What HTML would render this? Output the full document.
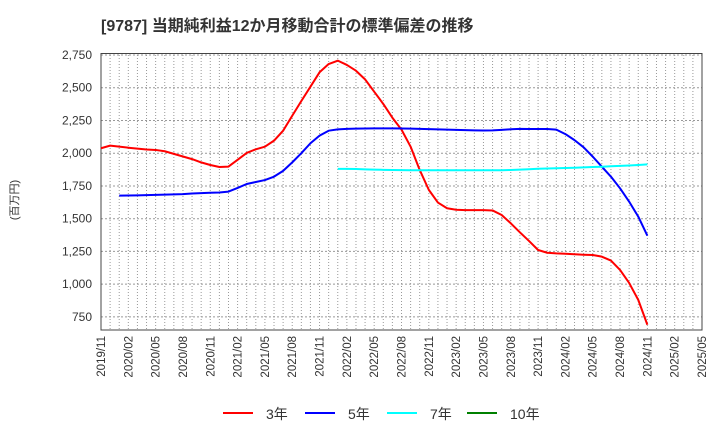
<!DOCTYPE html>
<html><head><meta charset="utf-8"><style>
body{margin:0;background:#fff;}
svg text{font-family:"Liberation Sans","Noto Sans CJK JP",sans-serif;fill:#333;}
</style></head><body>
<svg width="720" height="440" xmlns="http://www.w3.org/2000/svg" id="chart">
<text x="101" y="31" font-size="16" font-weight="bold">[9787]  当期純利益12か月移動合計の標準偏差の推移</text>
<text transform="translate(18,200) rotate(-90)" text-anchor="middle" font-size="11">(百万円)</text>
<g id="grid"></g><g id="axes"></g><g id="series"></g><g id="legend"></g>
</svg>
<script>
const yTicks=[750,1000,1250,1500,1750,2000,2250,2500,2750];
const xLabels=["2019/11","2020/02","2020/05","2020/08","2020/11","2021/02","2021/05","2021/08","2021/11","2022/02","2022/05","2022/08","2022/11","2023/02","2023/05","2023/08","2023/11","2024/02","2024/05","2024/08","2024/11","2025/02","2025/05"];
const seriesNames=["3年","5年","7年","10年"];
const seriesColors=["#ff0000","#0000ff","#00ffff","#008000"];
const start3=0;
const vals3=[2038,2058,2050,2042,2035,2028,2025,2015,1995,1975,1955,1930,1910,1895,1898,1950,2002,2030,2050,2096,2172,2286,2399,2508,2618,2681,2707,2674,2630,2564,2470,2376,2271,2180,2050,1872,1720,1623,1580,1568,1565,1565,1565,1563,1528,1465,1396,1330,1261,1240,1235,1232,1228,1225,1223,1210,1180,1109,1009,880,690];
const start5=2;
const vals5=[1676,1677,1678,1680,1682,1684,1686,1688,1692,1695,1698,1700,1707,1735,1765,1780,1795,1821,1865,1930,2000,2076,2134,2172,2182,2186,2188,2189,2190,2190,2190,2189,2188,2186,2184,2182,2180,2178,2176,2174,2173,2174,2178,2183,2186,2185,2185,2185,2180,2146,2100,2045,1974,1897,1821,1732,1630,1516,1370];
const start7=26;
const vals7=[1880,1880,1879,1877,1875,1873,1872,1871,1870,1870,1870,1870,1870,1870,1870,1870,1870,1870,1870,1872,1875,1878,1881,1883,1885,1887,1889,1892,1895,1897,1900,1903,1906,1910,1915];
const svgNS="http://www.w3.org/2000/svg";
const X0=101,X1=702,Y0=55,Y1=330,VMAX=2750,VMIN=650,NM=66;
const xs=m=>X0+(X1-X0)*m/NM;
const ys=v=>Y0+(VMAX-v)*(Y1-Y0)/(VMAX-VMIN);
function mk(tag,attrs,parent){const e=document.createElementNS(svgNS,tag);for(const k in attrs)e.setAttribute(k,attrs[k]);parent.appendChild(e);return e;}
const grid=document.getElementById('grid'),axes=document.getElementById('axes'),series=document.getElementById('series'),legend=document.getElementById('legend');
for(let m=1;m<NM;m++){const l=mk('line',{x1:xs(m),x2:xs(m),y1:Y0,y2:Y1,stroke:'#999','stroke-dasharray':'1,2','stroke-width':1},grid);

}
yTicks.forEach(v=>{const l=mk('line',{x1:X0,x2:X1,y1:ys(v),y2:ys(v),stroke:'#999','stroke-dasharray':'2,2','stroke-width':1},grid);


const t=mk('text',{x:X0-9,y:ys(v)+4,'text-anchor':'end','font-size':12},axes);t.textContent=v.toLocaleString('en-US');

});
xLabels.forEach((s,i)=>{const x=xs(i*3);const t=mk('text',{transform:`translate(${x+4},${Y1+6}) rotate(-90)`,'text-anchor':'end','font-size':11.5},axes);t.textContent=s;

});
const frame=mk('rect',{x:X0,y:Y0-1.5,width:X1-X0,height:Y1-Y0+1.5,fill:'none',stroke:'#444','stroke-width':1},axes);


[[start3,vals3,0,'series-3yr'],[start5,vals5,1,'series-5yr'],[start7,vals7,2,'series-7yr']].forEach(([s,v,c,n])=>{
const p=mk('polyline',{points:v.map((d,i)=>xs(s+i)+','+ys(d)).join(' '),fill:'none',stroke:seriesColors[c],'stroke-width':2,'stroke-linejoin':'round'},series);

});
const lx=[223,305,387,467];
seriesNames.forEach((n,i)=>{const l=mk('line',{x1:lx[i],x2:lx[i]+30,y1:413,y2:413,stroke:seriesColors[i],'stroke-width':2},legend);


const t=mk('text',{x:lx[i]+43,y:419,'font-size':14},legend);t.textContent=n;

});
</script>
</body></html>
